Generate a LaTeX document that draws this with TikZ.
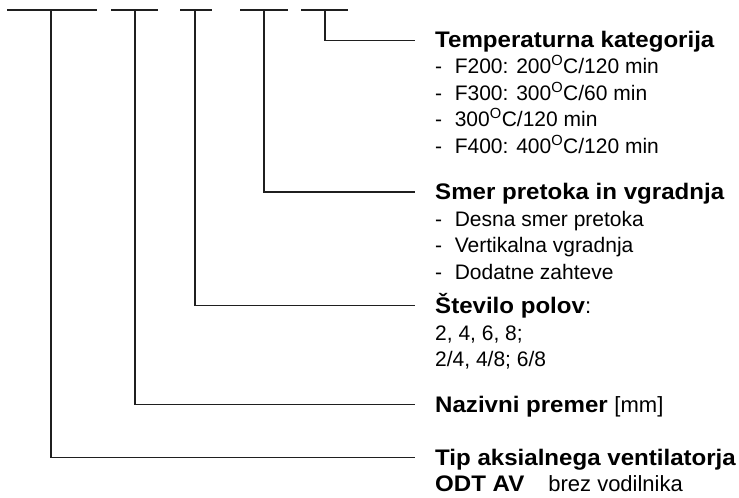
\documentclass[tikz,border=0pt]{standalone}
\usepackage{fontspec}
\setmainfont{Liberation Sans}[BoldFeatures={FakeStretch=1.07}]
\begin{document}
\begin{tikzpicture}[x=1pt,y=-1pt,
  lead/.style={draw=black!88, line width=1.6pt},
  head/.style={anchor=base west, inner sep=0pt, font=\fontsize{22.5}{26}\selectfont\bfseries},
  item/.style={anchor=base west, inner sep=0pt, font=\fontsize{21}{26}\selectfont}]
\useasboundingbox (0,0) rectangle (739,498);

% code-position bars along the top
\coordinate (b1l) at (7,10);   \coordinate (b1r) at (97,10);  \coordinate (s1) at (51,10);
\coordinate (b2l) at (111,10); \coordinate (b2r) at (158,10); \coordinate (s2) at (135,10);
\coordinate (b3l) at (180,10); \coordinate (b3r) at (212,10); \coordinate (s3) at (195,10);
\coordinate (b4l) at (240,10); \coordinate (b4r) at (288,10); \coordinate (s4) at (264,10);
\coordinate (b5l) at (301,10); \coordinate (b5r) at (348,10); \coordinate (s5) at (325,10);

% leader ends next to the labels
\coordinate (e5) at (415,40.5);
\coordinate (e4) at (415,192);
\coordinate (e3) at (415,305.5);
\coordinate (e2) at (415,404.5);
\coordinate (e1) at (415,457.5);

\foreach \i in {1,...,5}{
  \draw[lead] (b\i l) -- (b\i r);
  \draw[lead] (s\i) |- (e\i);
}

% temperature category
\node[head] (temp) at (435,47) {Temperaturna kategorija};
\node[item] (t1) at (435,73.5) {-\hspace{0.6em}F200: 200\textsuperscript{O}C/120 min};
\node[item] (t2) at (435,100) {-\hspace{0.6em}F300: 300\textsuperscript{O}C/60 min};
\node[item] (t3) at (435,126.5) {-\hspace{0.6em}300\textsuperscript{O}C/120 min};
\node[item] (t4) at (435,153) {-\hspace{0.6em}F400: 400\textsuperscript{O}C/120 min};

% flow direction and mounting
\node[head] (smer) at (435,199.5) {Smer pretoka in vgradnja};
\node[item] (m1) at (435,226) {-\hspace{0.6em}Desna smer pretoka};
\node[item] (m2) at (435,252.5) {-\hspace{0.6em}Vertikalna vgradnja};
\node[item] (m3) at (435,279) {-\hspace{0.6em}Dodatne zahteve};

% number of poles
\node[head] (pol) at (435,313) {Število polov\mdseries\fontsize{22}{26}\selectfont:};
\node[item] (p1) at (435,340) {2, 4, 6, 8;};
\node[item] (p2) at (435,366.5) {2/4, 4/8; 6/8};

% nominal diameter
\node[head] (dn) at (435,412.5) {Nazivni premer \mdseries\fontsize{22}{26}\selectfont[mm]};

% fan type
\node[head] (tip) at (435,465.5) {Tip aksialnega ventilatorja};
\node[head] (odt) at (435,491) {ODT AV\hspace{24pt}\mdseries\fontsize{22}{26}\selectfont brez vodilnika};
\end{tikzpicture}
\end{document}
